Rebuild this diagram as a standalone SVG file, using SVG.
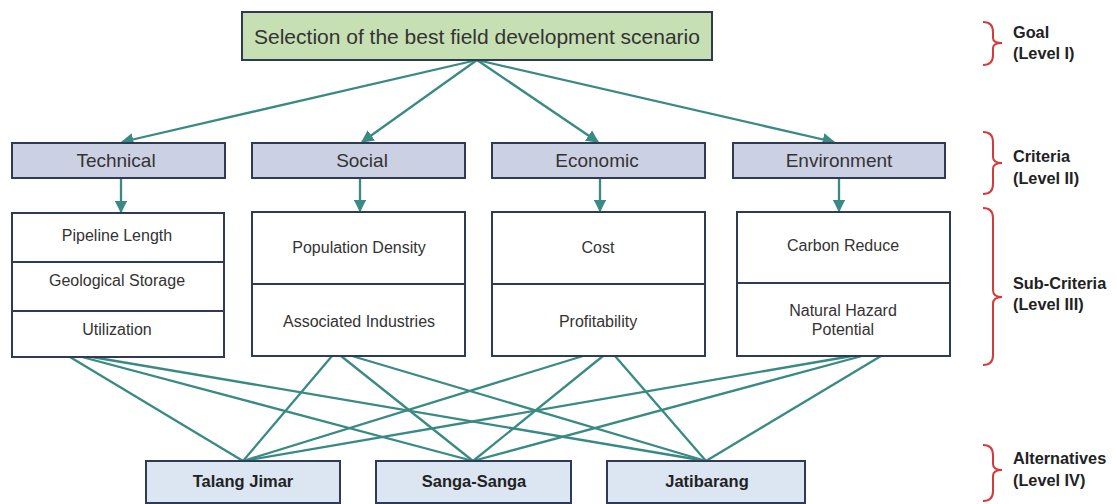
<svg xmlns="http://www.w3.org/2000/svg" width="1117" height="504" viewBox="0 0 1117 504">
<style>
.box{stroke:#2f3a55;stroke-width:2}
.goal{fill:#c6e0b4}
.crit{fill:#ccd0e3}
.sub{fill:#ffffff}
.alt{fill:#dce6f2}
.t{font-family:"Liberation Sans",Arial,sans-serif;fill:#333;text-anchor:middle;dominant-baseline:central}
.tg{font-size:21px}
.tc{font-size:19px}
.ts{font-size:16px}
.ta{font-size:16.5px;font-weight:bold;fill:#222}
.lv{font-family:"Liberation Sans",Arial,sans-serif;font-size:16.3px;font-weight:bold;fill:#222}
.con line{stroke:#3a8a84;stroke-width:2.3}
.arr{marker-end:url(#ah)}
.brace{fill:none;stroke:#d43a3a;stroke-width:2}
</style>
<defs>
<marker id="ah" viewBox="0 0 10 10" refX="9" refY="5" markerWidth="5.5" markerHeight="5.5" orient="auto" markerUnits="strokeWidth">
<path d="M0,0 L10,5 L0,10 z" fill="#3a8a84"/>
</marker>
</defs>
<rect width="1117" height="504" fill="#ffffff"/>

<g id="connectors" class="con">
<line class="arr" x1="477" y1="60" x2="122" y2="142"/>
<line class="arr" x1="477" y1="60" x2="362" y2="142"/>
<line class="arr" x1="477" y1="60" x2="598" y2="142"/>
<line class="arr" x1="477" y1="60" x2="834" y2="142"/>
<line class="arr" x1="121" y1="179" x2="121" y2="212"/>
<line class="arr" x1="360" y1="179" x2="360" y2="211"/>
<line class="arr" x1="600" y1="179" x2="600" y2="211"/>
<line class="arr" x1="839" y1="179" x2="839" y2="211"/>
<line x1="70" y1="357" x2="243" y2="461"/>
<line x1="82" y1="357" x2="473" y2="461"/>
<line x1="92" y1="357" x2="706" y2="461"/>
<line x1="332" y1="356" x2="243" y2="461"/>
<line x1="341" y1="356" x2="473" y2="461"/>
<line x1="352" y1="356" x2="706" y2="461"/>
<line x1="583" y1="356" x2="243" y2="461"/>
<line x1="603" y1="356" x2="473" y2="461"/>
<line x1="615" y1="356" x2="706" y2="461"/>
<line x1="852" y1="356" x2="243" y2="461"/>
<line x1="862" y1="356" x2="473" y2="461"/>
<line x1="881" y1="356" x2="706" y2="461"/>
</g>

<g id="goal">
<rect class="box goal" x="242" y="12" width="470" height="48"/>
<text class="t tg" x="477" y="36">Selection of the best field development scenario</text>
</g>

<g id="crit-technical">
<rect class="box crit" x="12" y="143" width="213" height="35"/>
<text class="t tc" x="116" y="160">Technical</text>
</g>
<g id="crit-social">
<rect class="box crit" x="252" y="143" width="213" height="35"/>
<text class="t tc" x="362" y="160">Social</text>
</g>
<g id="crit-economic">
<rect class="box crit" x="492" y="143" width="213" height="35"/>
<text class="t tc" x="597" y="160">Economic</text>
</g>
<g id="crit-environment">
<rect class="box crit" x="733" y="143" width="212" height="35"/>
<text class="t tc" x="839" y="160">Environment</text>
</g>

<g id="sub-technical">
<rect class="box sub" x="12" y="213" width="212" height="144"/>
<line class="box" x1="12" y1="262" x2="224" y2="262"/>
<line class="box" x1="12" y1="311" x2="224" y2="311"/>
<text class="t ts" x="117" y="235">Pipeline Length</text>
<text class="t ts" x="117" y="280">Geological Storage</text>
<text class="t ts" x="117" y="329">Utilization</text>
</g>
<g id="sub-social">
<rect class="box sub" x="252" y="212" width="213" height="144"/>
<line class="box" x1="252" y1="284" x2="465" y2="284"/>
<text class="t ts" x="359" y="247">Population Density</text>
<text class="t ts" x="359" y="321">Associated Industries</text>
</g>
<g id="sub-economic">
<rect class="box sub" x="492" y="212" width="213" height="144"/>
<line class="box" x1="492" y1="284" x2="705" y2="284"/>
<text class="t ts" x="598" y="247">Cost</text>
<text class="t ts" x="598" y="321">Profitability</text>
</g>
<g id="sub-environment">
<rect class="box sub" x="737" y="212" width="213" height="144"/>
<line class="box" x1="737" y1="283" x2="950" y2="283"/>
<text class="t ts" x="843" y="245">Carbon Reduce</text>
<text class="t ts" x="843" y="310">Natural Hazard</text>
<text class="t ts" x="843" y="329">Potential</text>
</g>

<g id="alt-talang-jimar">
<rect class="box alt" x="146" y="461" width="194" height="42"/>
<text class="t ta" x="243" y="481">Talang Jimar</text>
</g>
<g id="alt-sanga-sanga">
<rect class="box alt" x="376" y="461" width="195" height="42"/>
<text class="t ta" x="474" y="481">Sanga-Sanga</text>
</g>
<g id="alt-jatibarang">
<rect class="box alt" x="607" y="461" width="198" height="42"/>
<text class="t ta" x="707" y="481">Jatibarang</text>
</g>

<g id="level-goal">
<path class="brace" d="M983,22 Q993,22 993,32 L993,38 Q993,43 1002,43 Q993,43 993,48 L993,55 Q993,65 983,65"/>
<text class="lv" x="1013" y="38">Goal</text>
<text class="lv" x="1013" y="59">(Level I)</text>
</g>
<g id="level-criteria">
<path class="brace" d="M983,132 Q993,132 993,142 L993,157 Q993,163 1002,163 Q993,163 993,169 L993,184 Q993,194 983,194"/>
<text class="lv" x="1013" y="162">Criteria</text>
<text class="lv" x="1013" y="184">(Level II)</text>
</g>
<g id="level-sub">
<path class="brace" d="M983,208 Q993,208 993,218 L993,290 Q993,297 1002,297 Q993,297 993,304 L993,355 Q993,365 983,365"/>
<text class="lv" x="1013" y="289">Sub-Criteria</text>
<text class="lv" x="1013" y="310">(Level III)</text>
</g>
<g id="level-alt">
<path class="brace" d="M983,445 Q993,445 993,455 L993,464 Q993,470 1002,470 Q993,470 993,476 L993,491 Q993,501 983,501"/>
<text class="lv" x="1013" y="464">Alternatives</text>
<text class="lv" x="1013" y="486">(Level IV)</text>
</g>
</svg>
